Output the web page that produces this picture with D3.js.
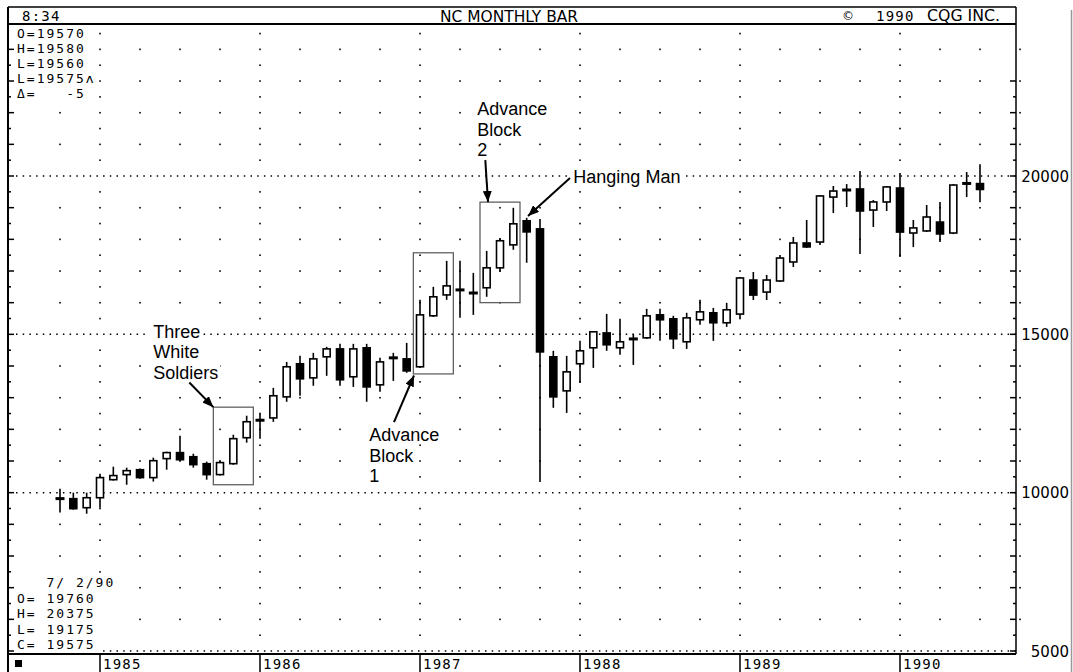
<!DOCTYPE html>
<html>
<head>
<meta charset="utf-8">
<script src="https://cdn.jsdelivr.net/npm/d3@7"></script>
<style>
  body { margin: 0; background: #fff; }
  svg { display: block; }
  .mono { font-family: 'DejaVu Sans Mono', monospace; font-size: 13px; letter-spacing: 2px; fill: #000; white-space: pre; }
  .year { font-family: 'DejaVu Sans Mono', monospace; font-size: 14px; letter-spacing: 1.2px; fill: #000; }
  .note { font-family: 'Liberation Sans', Arial, sans-serif; font-size: 18px; fill: #000; }
  .axis-label { font-family: 'DejaVu Sans', sans-serif; font-size: 15px; fill: #000; }
</style>
</head>
<body>
<div id="chart"></div>
<script>
// Monthly bars, Oct 1984 .. Jul 1990
const months = [
  '1984-10','1984-11','1984-12',
  '1985-01','1985-02','1985-03','1985-04','1985-05','1985-06','1985-07','1985-08','1985-09','1985-10','1985-11','1985-12',
  '1986-01','1986-02','1986-03','1986-04','1986-05','1986-06','1986-07','1986-08','1986-09','1986-10','1986-11','1986-12',
  '1987-01','1987-02','1987-03','1987-04','1987-05','1987-06','1987-07','1987-08','1987-09','1987-10','1987-11','1987-12',
  '1988-01','1988-02','1988-03','1988-04','1988-05','1988-06','1988-07','1988-08','1988-09','1988-10','1988-11','1988-12',
  '1989-01','1989-02','1989-03','1989-04','1989-05','1989-06','1989-07','1989-08','1989-09','1989-10','1989-11','1989-12',
  '1990-01','1990-02','1990-03','1990-04','1990-05','1990-06','1990-07'
];

const open = [
  9825, 9810, 9525, 9840, 10410, 10570, 10725, 10475, 11075, 11265, 11135, 10915,
  10570, 10915, 11735, 12335, 12360, 13025, 14070, 13625, 14290, 14540, 13660, 14575,
  13405, 14290, 14225, 13975, 15585, 16245, 16405, 16310, 16470, 17100, 17825, 18585,
  18330, 14290, 13215, 14070, 14575, 15045, 14575, 14860, 14890, 15615, 15490, 14765,
  15460, 15680, 15365, 15640, 16715, 16335, 16685, 17285, 17885, 17915, 19335, 19560,
  19590, 18925, 19180, 19620, 18200, 18265, 18545, 18200, 19780, 19760
];
const high = [
  10125, 10000, 10000, 10600, 10820, 10790, 10760, 11105, 11295, 11800, 11230, 10980,
  11010, 11830, 12430, 12495, 13310, 14130, 14320, 14415, 14605, 14700, 14700, 14700,
  14260, 14415, 14730, 16090, 16500, 17320, 17320, 16940, 17635, 18045, 18995, 18680,
  18645, 14480, 14320, 14795, 15100, 15645, 15490, 15015, 15805, 15805, 15585, 15680,
  16090, 15835, 15995, 16810, 16970, 16875, 17505, 18075, 18610, 19400, 19685, 19745,
  20160, 19240, 19685, 20095, 18610, 19085, 19180, 19745, 20125, 20375
];
const low = [
  9370, 9460, 9335, 9525, 10380, 10250, 10440, 10350, 10725, 11010, 10790, 10410,
  10540, 10880, 11580, 11705, 12235, 12870, 13060, 13375, 13690, 13375, 13340, 12870,
  13185, 13530, 13785, 13940, 15550, 16090, 15520, 15615, 16185, 16975, 17670, 17260,
  10340, 12680, 12520, 13470, 13940, 14480, 14355, 14035, 14855, 14795, 14540, 14540,
  15300, 14795, 15235, 15515, 16085, 16085, 16650, 17125, 17725, 17820, 18830, 19020,
  17535, 18390, 18895, 17440, 17755, 18230, 17915, 18165, 19335, 19175
];
const close = [
  9800, 9495, 9840, 10475, 10540, 10695, 10475, 11010, 11265, 11040, 10885, 10570,
  10950, 11705, 12240, 12240, 13060, 13975, 13595, 14225, 14540, 13565, 14540, 13340,
  14130, 14225, 13845, 15615, 16185, 16530, 16400, 16300, 17100, 17955, 18490, 18235,
  14445, 13025, 13815, 14480, 15080, 14670, 14765, 14850, 15585, 15460, 14860, 15520,
  15710, 15365, 15775, 16780, 16240, 16715, 17410, 17885, 17760, 19370, 19525, 19555,
  18895, 19180, 19655, 18230, 18360, 18705, 18170, 19715, 19750, 19575
];

const priceLabels = [5000, 10000, 15000, 20000];
const quoteLines = ['O=19570', 'H=19580', 'L=19560', 'L=19575\u028C', '\u0394=   -5'];
const lastDate = '7/ 2/90';

// pattern boxes: month index span and price span
const boxFrom = [11.5, 26.5, 31.5];
const boxTo = [14.5, 29.5, 34.5];
const boxTop = [12700, 17575, 19175];
const boxBottom = [10250, 13750, 16000];

// annotation text and arrows (month index, price)
const notes = [
  {lines: ['Three', 'White', 'Soldiers'], at: [7, 14900], tail: [9.7, 13480], head: [11.5, 12700]},
  {lines: ['Advance', 'Block', '1'], at: [23.2, 11630], tail: [25.05, 12230], head: [26.55, 13700]},
  {lines: ['Advance', 'Block', '2'], at: [31.3, 21925], tail: [31.9, 20500], head: [32.1, 19180]},
  {lines: ['Hanging Man'], at: [38.5, 19780], tail: [38.25, 19940], head: [35.1, 18740]}
];

const W = 1073, H = 672;
const frame = {left: 8, right: 1016, top: 7, header: 24, bottom: 654};

const svg = d3.select('#chart').append('svg')
  .attr('width', W)
  .attr('height', H);

const x = d3.scaleLinear().domain([0, months.length - 1]).range([60, 980]);
const y = d3.scaleLinear().domain([5000, 20000]).range([651, 176]);

const yearIdx = months.map((m, i) => m.endsWith('-01') ? i : -1).filter(i => i >= 0);

// arrow head
svg.append('defs').append('marker')
  .attr('id', 'arrow')
  .attr('markerUnits', 'userSpaceOnUse')
  .attr('markerWidth', 12).attr('markerHeight', 9)
  .attr('refX', 11).attr('refY', 4.5)
  .attr('orient', 'auto')
  .append('path')
  .attr('d', 'M0,0 L11,4.5 L0,9 Z')
  .attr('fill', '#000');

// ---- grid dots ----
const grid = svg.append('g');
const quarterCols = d3.range(0, 73, 3);
const thousandRows = d3.range(6000, 24001, 1000).filter(v => v % 5000 !== 0);
const dots = [];
quarterCols.forEach(c => thousandRows.forEach(v => dots.push([c, v])));
yearIdx.forEach(c => d3.range(5500, 24501, 1000).forEach(v => dots.push([c, v])));
grid.selectAll('.dot')
  .data(dots)
  .join('rect')
  .attr('class', 'dot')
  .attr('x', d => x(d[0]) - 0.75)
  .attr('y', d => y(d[1]) - 0.75)
  .attr('width', 1.6).attr('height', 1.6)
  .attr('fill', '#000');

grid.selectAll('.hline')
  .data(priceLabels)
  .join('line')
  .attr('class', 'hline')
  .attr('x1', frame.left + 8).attr('x2', frame.right)
  .attr('y1', d => y(d)).attr('y2', d => y(d))
  .attr('stroke', '#000')
  .attr('stroke-width', 1.5)
  .attr('stroke-dasharray', '1.5 5.2');

// ---- axis ticks ----
const tickVals = d3.range(5000, 24001, 500);
svg.append('g').selectAll('line')
  .data(tickVals)
  .join('line')
  .attr('x1', frame.left).attr('x2', d => frame.left + (d % 1000 === 0 ? 6 : 3))
  .attr('y1', d => y(d)).attr('y2', d => y(d))
  .attr('stroke', '#000').attr('stroke-width', 1.5);
svg.append('g').selectAll('line')
  .data(tickVals.filter(v => v <= 23000))
  .join('line')
  .attr('x1', frame.right).attr('x2', d => frame.right - (d % 1000 === 0 ? 6 : 3))
  .attr('y1', d => y(d)).attr('y2', d => y(d))
  .attr('stroke', '#000').attr('stroke-width', 1.5);

svg.append('g').selectAll('text')
  .data(priceLabels)
  .join('text')
  .attr('class', 'axis-label')
  .attr('text-anchor', 'end')
  .attr('x', 1069)
  .attr('y', d => y(d) + 5.5)
  .text(d => d);

// ---- frame ----
const border = svg.append('g').attr('stroke', '#000').attr('fill', 'none');
border.append('line').attr('x1', frame.left).attr('x2', frame.right).attr('y1', frame.top).attr('y2', frame.top).attr('stroke-width', 1.5);
border.append('line').attr('x1', frame.left).attr('x2', frame.right).attr('y1', frame.header).attr('y2', frame.header).attr('stroke-width', 2);
border.append('line').attr('x1', frame.left).attr('x2', frame.right).attr('y1', frame.bottom).attr('y2', frame.bottom).attr('stroke-width', 2);
border.append('line').attr('x1', frame.left).attr('x2', frame.left).attr('y1', frame.top).attr('y2', H).attr('stroke-width', 2);
border.append('line').attr('x1', frame.right).attr('x2', frame.right).attr('y1', frame.top).attr('y2', frame.bottom).attr('stroke-width', 1.5);
border.append('line').attr('x1', 1071.5).attr('x2', 1071.5).attr('y1', 10).attr('y2', H).attr('stroke', '#999').attr('stroke-width', 1.5);

// year separators and labels
svg.append('g').selectAll('line')
  .data(yearIdx)
  .join('line')
  .attr('x1', d => x(d)).attr('x2', d => x(d))
  .attr('y1', frame.bottom).attr('y2', H)
  .attr('stroke', '#000').attr('stroke-width', 1.5);
svg.append('g').selectAll('text')
  .data(yearIdx)
  .join('text')
  .attr('class', 'year')
  .attr('x', d => x(d) + 3)
  .attr('y', 669)
  .text(d => months[d].slice(0, 4));
svg.append('rect').attr('x', 15).attr('y', 660).attr('width', 7).attr('height', 7).attr('fill', '#000');

// header
svg.append('text').attr('class', 'year').attr('x', 22).attr('y', 21).text('8:34');
svg.append('text')
  .attr('x', 440).attr('y', 22)
  .attr('font-family', 'DejaVu Sans, sans-serif').attr('font-size', 16)
  .attr('textLength', 138).attr('lengthAdjust', 'spacingAndGlyphs')
  .text('NC MONTHLY BAR');
svg.append('text').attr('x', 842).attr('y', 20).attr('font-family', 'DejaVu Sans, sans-serif').attr('font-size', 12).text('\u00A9');
svg.append('text').attr('class', 'year').attr('x', 876).attr('y', 21).text('1990');
svg.append('text')
  .attr('x', 927).attr('y', 21)
  .attr('font-family', 'DejaVu Sans, sans-serif').attr('font-size', 15)
  .attr('textLength', 73).attr('lengthAdjust', 'spacingAndGlyphs')
  .text('CQG INC.');

// ---- quote blocks ----
svg.append('rect').attr('x', 15).attr('y', 26).attr('width', 80).attr('height', 75).attr('fill', '#fff');
svg.append('g').selectAll('text')
  .data(quoteLines)
  .join('text')
  .attr('class', 'mono')
  .attr('x', 17)
  .attr('y', (d, i) => 38 + i * 15)
  .text(d => d);

const last = months.length - 1;
const bottomLines = [
  '   ' + lastDate,
  'O= ' + open[last],
  'H= ' + high[last],
  'L= ' + low[last],
  'C= ' + close[last]
];
svg.append('rect').attr('x', 15).attr('y', 573).attr('width', 88).attr('height', 79).attr('fill', '#fff');
svg.append('g').selectAll('text')
  .data(bottomLines)
  .join('text')
  .attr('class', 'mono')
  .attr('x', 17)
  .attr('y', (d, i) => 587 + i * 15.5)
  .text(d => d);

// ---- pattern boxes ----
svg.append('g').selectAll('rect')
  .data(boxFrom)
  .join('rect')
  .attr('x', (d, i) => x(d))
  .attr('y', (d, i) => y(boxTop[i]))
  .attr('width', (d, i) => x(boxTo[i]) - x(d))
  .attr('height', (d, i) => y(boxBottom[i]) - y(boxTop[i]))
  .attr('fill', 'none')
  .attr('stroke', '#555')
  .attr('stroke-width', 1.2);

// ---- candles ----
const bars = months.map((m, i) => ({i, o: open[i], h: high[i], l: low[i], c: close[i]}));
const candle = svg.append('g').selectAll('g')
  .data(bars)
  .join('g');

candle.append('line')
  .attr('x1', d => x(d.i)).attr('x2', d => x(d.i))
  .attr('y1', d => y(d.h)).attr('y2', d => y(d.l))
  .attr('stroke', '#000').attr('stroke-width', 1.6);

candle.filter(d => Math.abs(d.c - d.o) < 100)
  .append('rect')
  .attr('x', d => x(d.i) - 4.5)
  .attr('y', d => y((d.o + d.c) / 2) - 1.5)
  .attr('width', 9).attr('height', 3)
  .attr('fill', '#000');

candle.filter(d => Math.abs(d.c - d.o) >= 100)
  .append('rect')
  .attr('x', d => x(d.i) - 3.5)
  .attr('y', d => y(Math.max(d.o, d.c)))
  .attr('width', 7)
  .attr('height', d => y(Math.min(d.o, d.c)) - y(Math.max(d.o, d.c)))
  .attr('fill', d => d.c > d.o ? '#fff' : '#000')
  .attr('stroke', '#000')
  .attr('stroke-width', 1.6);

// ---- annotations ----
const ann = svg.append('g');
notes.forEach(n => {
  const g = ann.append('g');
  const txt = g.selectAll('text')
    .data(n.lines)
    .join('text')
    .attr('class', 'note')
    .attr('x', x(n.at[0]))
    .attr('y', (d, i) => y(n.at[1]) + i * 20.5)
    .text(d => d);
  txt.each(function() {
    const b = this.getBBox();
    g.insert('rect', 'text')
      .attr('x', b.x - 4).attr('y', b.y + 2)
      .attr('width', b.width + 6).attr('height', b.height - 3)
      .attr('fill', '#fff');
  });
  ann.append('line')
    .attr('x1', x(n.tail[0])).attr('y1', y(n.tail[1]))
    .attr('x2', x(n.head[0])).attr('y2', y(n.head[1]))
    .attr('stroke', '#000')
    .attr('stroke-width', 2)
    .attr('marker-end', 'url(#arrow)');
});
</script>
</body>
</html>
